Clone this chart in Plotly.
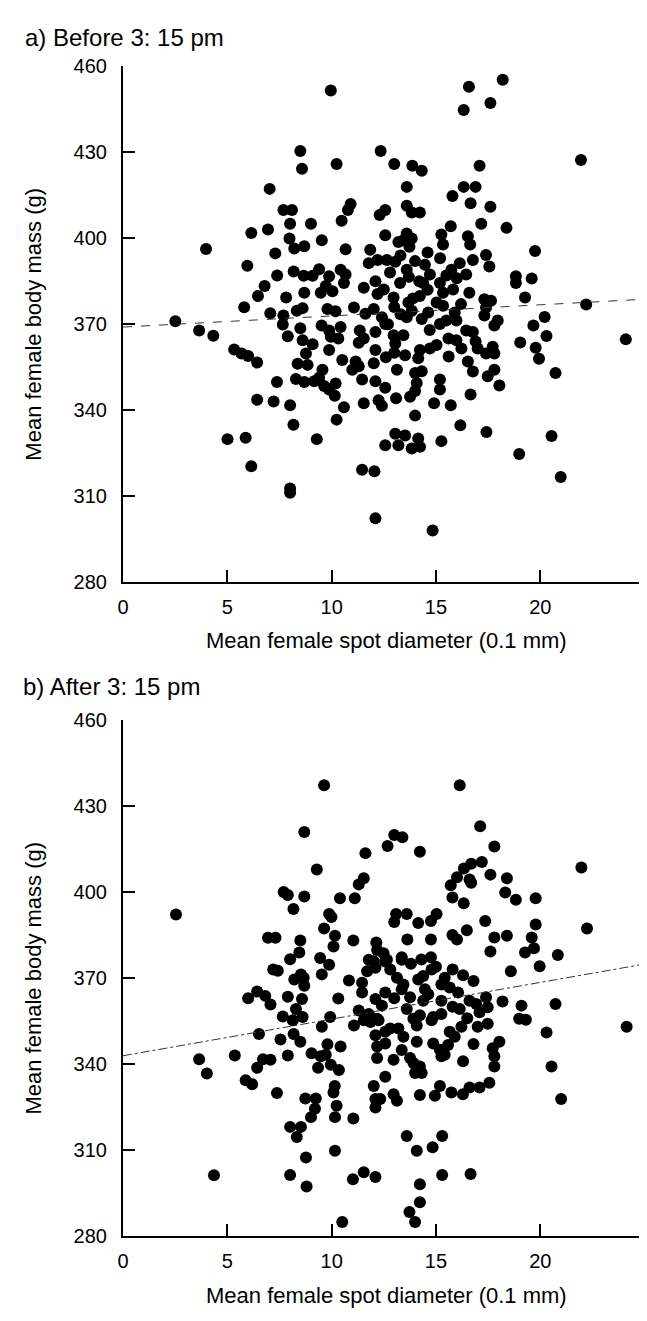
import plotly.graph_objects as go

# ---------------- data: panel a (before 3:15 pm) ----------------
spot_a = [9.96, 8.50, 12.35, 8.58, 10.24, 7.03, 7.69, 8.10, 10.91, 10.78, 12.30, 8.01, 9.01, 10.48,
          6.15, 6.95, 7.98, 8.69, 8.21, 9.53, 10.67, 11.85, 3.98, 5.96, 7.30, 11.78, 7.39, 8.18, 8.66,
          9.09, 9.40, 9.88, 10.43, 10.67, 10.59, 9.72, 10.04, 9.48, 11.54, 12.1, 12.2, 6.79, 6.47, 7.82,
          8.69, 5.81, 7.06, 7.69, 8.33, 8.61, 9.80, 10.19, 11.07, 11.62, 12.02, 2.51, 3.65, 4.33, 7.66,
          7.90, 8.50, 9.52, 9.88, 10.43, 9.96, 10.32, 11.35, 11.54, 11.30, 12.10, 8.61, 9.09, 8.77, 5.33,
          5.68, 6.00, 6.43, 9.88, 8.37, 8.85, 10.51, 11.15, 10.99, 11.30, 12.02, 12.10, 8.29, 8.69, 9.16,
          9.56, 9.40, 9.64, 10.19, 9.88, 11.46, 12.10, 7.38, 6.43, 7.22, 8.01, 10.15, 10.59, 11.54, 12.25,
          10.24, 8.17, 5.01, 5.88, 9.29, 6.15, 11.46, 12.05, 8.01, 8.01, 12.10,
          22.2, 24.1, 20.21, 19.67, 20.30, 19.04, 19.78, 19.94, 20.73, 20.54, 18.99, 20.98, 14.84, 17.42,
          16.17, 15.26, 12.57, 13.05, 13.20, 13.52, 13.84, 14.15, 14.24, 14.0, 14.91, 15.71, 16.66, 12.41,
          13.09, 13.76, 14.0, 15.19, 15.19, 12.57, 13.13, 14.0, 14.32, 14.08, 17.48, 17.8, 18.04, 16.53,
          16.77, 15.61, 17.0, 17.4, 17.72, 17.8, 15.98, 16.22, 15.03, 14.71, 14.23, 14.15, 13.52, 13.05,
          13.44, 12.97, 12.57, 12.41, 13.6, 13.84, 14.32, 14.63, 15.19, 15.5, 15.9, 15.98, 15.34, 16.45,
          16.77, 17.32, 17.4, 17.8, 17.96,
          16.58, 18.2, 16.33, 17.61, 21.95, 13.0, 13.87, 14.32, 17.09, 13.6, 16.33, 16.9, 15.79, 16.66,
          17.61, 12.57, 13.6, 13.84, 14.23, 15.71, 17.17, 18.38, 12.57, 13.2, 13.6, 13.84, 13.73, 13.44,
          15.26, 15.34, 16.53, 16.64, 19.75, 12.2, 12.65, 13.05, 13.6, 14.47, 14.71, 14.39, 15.74, 16.14,
          16.77, 17.4, 17.56, 16.45, 18.83, 18.83, 19.59, 19.27, 12.5, 12.97, 13.28, 13.68, 14.23, 15.19,
          15.34, 15.82, 15.03, 17.32, 17.64,
          12.8, 13.3, 14.0, 14.6, 15.2, 14.2, 13.7, 15.5, 16.0, 13.0, 13.9, 14.6, 16.6, 16.2, 12.7,
          13.3, 14.7, 15.6, 16.9, 12.6, 13.0]
mass_a = [451.5, 430.4, 430.4, 424.2, 425.9, 417.2, 409.8, 409.8, 411.9, 409.8, 408.1, 405.0, 405.0, 406.1,
          401.8, 403.0, 399.9, 397.2, 396.4, 399.3, 396.1, 396.0, 396.2, 390.4, 394.7, 391.3, 387.0, 388.4, 386.9,
          386.9, 389.2, 386.7, 389.0, 387.3, 384.4, 383.3, 381.5, 381.0, 382.7, 385.0, 380.5, 383.3, 379.8, 379.3,
          381.0, 375.9, 373.8, 373.0, 374.7, 375.6, 375.3, 374.5, 375.8, 373.6, 375.3, 371.0, 367.8, 366.0, 369.9,
          365.8, 368.6, 369.5, 367.8, 369.0, 365.6, 365.0, 367.8, 365.0, 363.5, 367.3, 364.4, 363.0, 359.8, 361.2,
          359.8, 358.9, 356.6, 361.0, 356.2, 355.8, 357.5, 357.0, 354.1, 355.3, 356.4, 361.0, 350.9, 349.8, 350.1,
          354.1, 351.3, 348.4, 349.3, 347.2, 350.7, 350.1, 349.8, 343.6, 343.0, 341.7, 345.0, 341.0, 342.4, 343.5,
          336.7, 334.9, 329.9, 330.4, 329.9, 320.4, 319.2, 318.7, 312.7, 311.2, 302.3,
          376.9, 364.7, 372.5, 369.5, 365.9, 363.6, 361.8, 357.9, 353.0, 331.0, 324.7, 316.7, 298.0, 332.4,
          334.7, 329.2, 327.8, 331.8, 327.8, 331.2, 326.6, 330.1, 327.2, 338.1, 342.4, 341.7, 345.5, 341.5,
          344.2, 344.7, 346.7, 350.7, 347.2, 347.8, 354.1, 353.0, 353.6, 349.5, 351.8, 354.1, 348.6, 357.0,
          353.5, 358.7, 361.5, 359.8, 362.1, 359.8, 364.4, 361.5, 362.7, 361.5, 361.0, 358.1, 359.2, 363.3,
          366.1, 366.1, 370.1, 372.4, 372.4, 374.7, 371.8, 374.1, 370.1, 371.3, 374.1, 371.3, 376.4, 367.8,
          367.3, 373.0, 375.8, 369.5, 371.3,
          452.8, 455.3, 444.7, 447.2, 427.3, 425.9, 425.3, 423.5, 425.3, 417.9, 417.9, 417.9, 414.7, 412.2,
          411.0, 409.8, 411.3, 409.0, 409.0, 404.2, 405.0, 403.6, 401.0, 398.7, 401.6, 399.9, 397.0, 399.3,
          401.3, 397.8, 400.7, 397.8, 395.5, 392.4, 392.4, 391.8, 389.0, 390.7, 387.3, 384.4, 389.0, 391.3,
          392.4, 394.1, 390.1, 387.3, 386.7, 384.4, 385.9, 379.3, 382.1, 379.3, 384.4, 377.6, 379.8, 384.4,
          381.0, 382.1, 377.6, 378.7, 378.2,
          388.0, 394.0, 392.0, 395.0, 393.0, 385.0, 386.5, 387.0, 386.0, 376.0, 379.0, 382.0, 381.0, 377.0, 370.0,
          373.5, 368.0, 365.0, 364.0, 358.5, 360.0]

# ---------------- data: panel b (after 3:15 pm) ----------------
spot_b = [9.64, 8.69, 11.62, 9.29, 11.3, 11.54, 7.7, 7.9, 8.69, 10.4, 11.11, 8.17, 2.54, 9.88, 9.99, 9.64,
          6.95, 7.31, 8.5, 10.16, 10.09, 11.04, 12.14, 12.18, 8.45, 8.01, 9.45, 9.88, 11.78,
          7.2, 7.42, 8.21, 8.53, 8.69, 8.66, 9.53, 10.83, 11.46, 11.46, 11.7, 12.1, 12.02, 6.0, 6.43, 6.82,
          7.07, 7.9, 8.58, 10.32, 12.1, 7.66, 8.29, 8.14, 8.61, 9.93, 9.53, 11.3, 11.78, 11.07, 11.54, 11.86,
          12.18, 6.52, 7.55, 8.18, 8.5, 9.8, 10.43, 12.1, 12.18, 12.18, 3.65, 4.02, 5.36, 6.71, 7.07, 6.43,
          7.9, 9.04, 9.48, 9.72, 9.35, 9.96, 10.35, 5.88, 6.19, 7.38, 8.74, 9.24, 9.2, 9.01, 10.15, 10.09,
          10.24, 10.16, 11.04, 12.02, 12.1, 12.1, 8.01, 8.53, 8.33, 10.16, 8.77, 4.36, 8.01, 8.8, 11.02,
          11.54, 12.1, 10.51,
          18.59, 19.97, 24.14, 20.73, 19.1, 18.99, 19.31, 20.3, 20.54, 21.0, 18.19, 17.4, 17.48, 17.09, 16.93,
          16.61, 17.0, 17.48, 18.04, 17.72, 17.8, 17.8, 17.56, 17.09, 16.61, 16.29, 15.74, 15.19, 14.95, 14.23,
          16.14, 16.22, 15.66, 15.9, 15.58, 15.19, 15.26, 15.42, 15.26, 14.87, 15.26, 15.42, 15.26, 15.66,
          16.06, 14.79, 14.39, 14.15, 14.47, 14.63, 14.39, 13.76, 13.6, 13.92, 14.23, 14.08, 14.79, 13.36,
          13.44, 13.13, 12.81, 12.57, 13.36, 12.57, 12.41, 12.25, 12.57, 12.81, 13.2, 13.44, 12.57, 12.97,
          13.36, 13.76, 14.08, 13.92, 14.23, 14.0, 14.32, 14.87, 12.57, 12.33, 12.97, 13.13, 13.6, 14.08,
          14.84, 15.3, 14.23, 15.3, 16.66, 14.23, 13.73, 14.0,
          16.14, 17.12, 17.8, 13.0, 13.39, 12.68, 14.23, 21.97, 17.2, 16.69, 16.34, 16.01, 15.71, 16.61,
          16.69, 17.61, 18.4, 18.32, 18.83, 19.78, 15.79, 16.33, 13.09, 13.6, 13.0, 15.03, 14.76, 14.15,
          17.36, 19.78, 22.24, 15.79, 16.01, 16.48, 17.8, 18.4, 19.59, 19.7, 19.27, 20.84, 17.61, 13.63,
          14.76, 13.36, 14.76, 12.49, 12.65,
          13.8, 14.3, 15.0, 15.8, 16.3, 16.8, 13.0, 15.8, 16.5, 16.8, 16.3]
mass_b = [437.3, 421.0, 413.6, 407.9, 402.7, 404.8, 400.0, 399.0, 398.5, 397.9, 397.9, 394.1, 392.2, 392.4,
          391.3, 387.3, 384.1, 384.1, 383.1, 384.8, 381.0, 383.1, 382.4, 379.8, 378.9, 376.6, 377.0, 374.7, 376.4,
          373.0, 372.6, 369.5, 371.3, 367.3, 370.1, 371.3, 369.2, 368.4, 365.0, 372.4, 373.6, 375.9, 363.0, 365.3,
          363.8, 360.8, 363.5, 362.7, 362.9, 362.7, 356.6, 359.2, 355.3, 356.4, 356.4, 353.0, 358.7, 357.5, 353.5,
          355.3, 354.7, 355.8, 350.5, 348.6, 350.5, 347.8, 346.9, 346.1, 350.1, 346.1, 342.1, 341.7, 336.7, 343.0,
          341.7, 341.5, 338.7, 343.0, 343.8, 342.7, 343.3, 338.7, 339.8, 337.9, 334.4, 333.0, 329.9, 328.0, 328.0,
          324.4, 321.5, 332.4, 330.1, 325.5, 321.5, 321.0, 332.4, 327.8, 324.9, 318.1, 318.1, 314.6, 309.8, 307.4,
          301.2, 301.3, 297.3, 299.8, 302.3, 300.6, 284.9,
          372.4, 374.1, 353.0, 361.0, 360.4, 355.8, 355.5, 351.0, 339.2, 327.8, 361.8, 363.3, 359.8, 358.1, 361.0,
          362.1, 353.0, 354.1, 347.8, 345.5, 342.7, 339.2, 333.5, 331.8, 331.8, 329.5, 330.1, 332.4, 329.0, 329.2,
          359.2, 353.0, 351.3, 349.5, 346.7, 345.0, 342.7, 343.3, 362.1, 356.4, 357.5, 370.1, 367.8, 366.7,
          365.0, 373.0, 370.7, 369.5, 366.1, 364.4, 362.1, 363.3, 359.2, 355.8, 357.0, 353.5, 355.3, 366.1,
          367.8, 370.1, 373.0, 375.8, 376.4, 365.0, 360.4, 355.3, 351.3, 352.4, 352.4, 349.5, 347.2, 341.5,
          344.9, 342.1, 347.8, 340.4, 339.2, 336.9, 336.9, 347.2, 335.6, 327.8, 329.5, 327.2, 314.9, 309.8,
          311.0, 314.9, 298.1, 301.3, 301.7, 291.8, 288.4, 284.9,
          437.3, 423.0, 415.9, 419.9, 419.1, 416.1, 414.1, 408.6, 410.5, 409.9, 408.2, 405.2, 402.4, 404.4,
          403.3, 406.1, 404.8, 399.9, 397.3, 397.9, 398.1, 396.1, 392.4, 392.4, 389.6, 392.4, 389.9, 389.2,
          389.9, 388.7, 387.3, 385.0, 383.5, 386.7, 384.2, 384.8, 384.2, 380.4, 378.9, 378.1, 379.3, 383.5,
          383.5, 377.3, 377.3, 378.7, 376.4,
          375.0, 376.5, 374.0, 373.0, 371.0, 369.0, 363.0, 360.0, 356.0, 347.0, 341.0]

# regression lines (end values)
fit_x = [0, 25]
fit_a = [369.0, 378.7]
fit_b = [342.9, 374.9]

x_ticks = [0, 5, 10, 15, 20, 25]
y_ticks = [280, 310, 340, 370, 400, 430, 460]

W, H = 647, 1321
FONT = "Liberation Sans, Arial, sans-serif"

fig = go.Figure()
fig.add_trace(go.Scatter(x=spot_a, y=mass_a, mode="markers", xaxis="x", yaxis="y",
                         marker=dict(size=12, color="black", line=dict(width=0)), showlegend=False))
fig.add_trace(go.Scatter(x=fit_x, y=fit_a, mode="lines", xaxis="x", yaxis="y",
                         line=dict(color="#333333", width=1, dash="dash"), showlegend=False))
fig.add_trace(go.Scatter(x=spot_b, y=mass_b, mode="markers", xaxis="x2", yaxis="y2",
                         marker=dict(size=12, color="black", line=dict(width=0)), showlegend=False))
fig.add_trace(go.Scatter(x=fit_x, y=fit_b, mode="lines", xaxis="x2", yaxis="y2",
                         line=dict(color="#333333", width=1, dash="dashdot"), showlegend=False))

xdom = [110 / W, 636.5 / W]
top_dom = [1 - 572.7 / H, 1 - 48 / H]
bot_dom = [1 - 1237.7 / H, 1 - 713 / H]

def xax(anchor):
    return dict(domain=xdom, range=[0, 25], anchor=anchor, tickvals=x_ticks, ticks="inside",
                ticklen=12, tickwidth=1.5, tickcolor="black", showline=True, linecolor="black",
                linewidth=2, showgrid=False, zeroline=False, ticklabelstandoff=6,
                tickfont=dict(family=FONT, size=20, color="black"))

def yax(dom, anchor):
    return dict(domain=dom, range=[280, 460], anchor=anchor, tickvals=y_ticks, ticks="inside",
                ticklen=12, tickwidth=1.5, tickcolor="black", showline=True, linecolor="black",
                linewidth=2, showgrid=False, zeroline=False, ticklabelstandoff=10,
                tickfont=dict(family=FONT, size=20, color="black"))

fig.update_layout(
    width=W, height=H, margin=dict(l=0, r=0, t=0, b=0),
    paper_bgcolor="white", plot_bgcolor="white",
    xaxis=xax("y"), yaxis=yax(top_dom, "x"),
    xaxis2=xax("y2"), yaxis2=yax(bot_dom, "x2"),
    font=dict(family=FONT, color="black"),
)

def ann(text, x, y, size, xanchor="center", yanchor="middle", angle=0):
    fig.add_annotation(text=text, x=x / W, y=1 - y / H, xref="paper", yref="paper",
                       showarrow=False, xanchor=xanchor, yanchor=yanchor, textangle=angle,
                       font=dict(family=FONT, size=size, color="black"))

ann("a) Before 3: 15 pm", 9, 19, 24, xanchor="left")
ann("b) After 3: 15 pm", 7, 679, 24, xanchor="left")
ann("Mean female spot diameter (0.1 mm)", 376, 632, 22)
ann("Mean female spot diameter (0.1 mm)", 376, 1298, 22)
ann("Mean female body mass (g)", 20, 310, 22, angle=-90)
ann("Mean female body mass (g)", 20, 975, 22, angle=-90)

fig.write_html("out.html")
